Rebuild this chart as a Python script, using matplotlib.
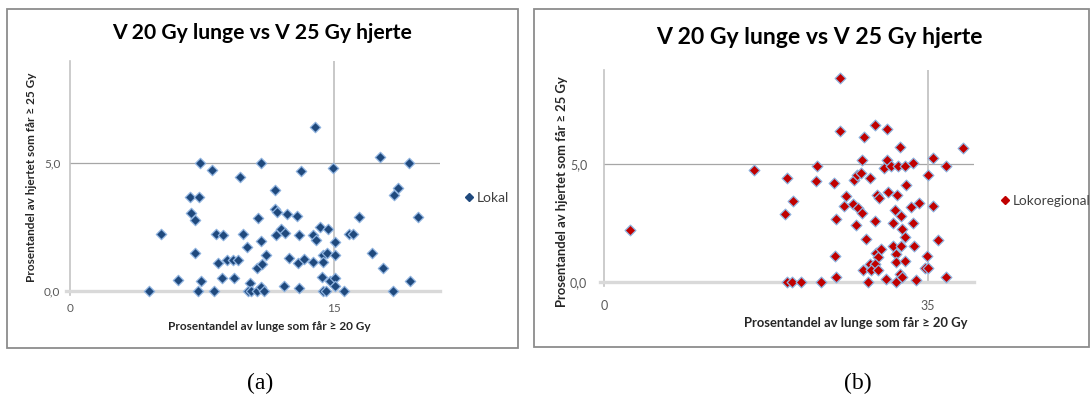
import matplotlib
matplotlib.use("Agg")
import matplotlib.pyplot as plt
from matplotlib.lines import Line2D
from matplotlib.patches import Rectangle

plt.rcParams['font.family'] = ['Lato', 'DejaVu Sans']

W, H = 1091, 399

# Lokal (a)
lokal_x = [4.5, 5.15, 6.15, 6.8, 7.35, 7.38, 6.84, 7.1, 7.08, 7.42, 7.28, 8.08, 8.18,
           8.31, 8.7, 8.4, 8.62, 8.9, 9.24, 9.52, 9.28, 9.65, 9.82, 10.03, 10.22, 10.08,
           10.28, 10.6, 10.83, 11.02, 10.82, 10.65, 10.84, 10.61, 10.92, 11.15, 11.66,
           11.63, 11.74, 11.98, 11.71, 12.2, 12.33, 12.42, 12.15, 12.86, 12.98, 12.95,
           13.27, 13.0, 13.1, 13.9, 13.8, 13.97, 14.2, 14.63, 14.36, 14.56, 13.81, 14.38,
           14.3, 14.35, 14.54, 14.77, 14.92, 15.02, 15.02, 15.02, 15.02, 15.53, 15.82,
           16.08, 16.42, 17.14, 17.76, 17.57, 18.33, 18.38, 18.64, 19.23, 19.32, 19.75]
lokal_y = [0, 2.23, 0.44, 3.69, 3.69, 5.0, 3.05, 2.78, 1.49, 0.39, 0, 4.75, 0,
           2.25, 2.19, 1.09, 0.5, 1.2, 1.2, 1.2, 0.5, 4.45, 2.24, 1.71, 0.3, 0,
           0, 0, 0.15, 0, 5.0, 2.85, 1.95, 0.91, 1.04, 1.42, 3.96,
           3.19, 3.1, 2.41, 2.19, 2.26, 3.0, 1.31, 0.19, 2.93, 2.21, 1.1,
           1.26, 0.1, 4.71, 6.43, 2.19, 1.99, 2.52, 2.44, 1.42, 1.48, 1.14, 1.12,
           0.56, 0, 0, 0.38, 4.82, 1.92, 1.4, 0.52, 0.21, 0, 2.23,
           2.25, 2.91, 1.47, 0.89, 5.25, 0, 3.76, 4.05, 5.02, 0.39, 2.9]

# Lokoregional (b)
lokoreg_x = [2.78, 16.23, 19.78, 20.39, 19.52, 19.78, 20.33, 21.26, 23.46, 23.03, 22.96,
             24.84, 25.09, 24.98, 25.09, 25.49, 25.56, 26.14, 25.92, 27.22, 26.93, 27.08,
             27.37, 27.77, 27.88, 28.09, 28.78, 27.44, 27.91, 28.34, 27.98, 28.49, 29.25,
             29.25, 29.36, 29.65, 28.74, 29.28, 28.88, 29.9, 29.61, 29.46, 29.75, 30.29,
             30.62, 30.98, 30.62, 30.69, 30.44, 31.27, 31.2, 31.56, 31.56, 31.56, 31.49,
             31.71, 31.81, 31.96, 32.07, 32.07, 32.0, 32.21, 32.18, 32.5, 32.5, 32.57,
             32.65, 33.22, 33.44, 33.44, 33.51, 33.73, 34.02, 35.03, 34.96, 34.67, 35.03,
             35.57, 35.61, 36.11, 36.98, 36.98, 38.83]
lokoreg_y = [2.2, 4.74, 4.42, 3.45, 2.87, 0, 0, 0, 0, 4.93, 4.28,
             4.2, 2.68, 1.09, 0.2, 8.66, 6.42, 3.66, 3.22, 2.41, 3.31, 4.33,
             4.55, 4.64, 5.16, 6.15, 4.4, 3.13, 2.95, 1.82, 0.5, 0, 6.65,
             2.6, 1.24, 1.07, 0.75, 0.75, 0.5, 1.39, 0.5, 3.69, 3.58, 4.83,
             5.18, 4.93, 6.51, 3.84, 0.11, 2.49, 1.53, 1.19, 0.85, 0, 3.07,
             3.69, 4.93, 5.74, 2.81, 1.53, 0.36, 0.2, 2.23, 1.92, 4.93, 0.89,
             4.11, 3.2, 5.04, 2.5, 1.53, 0.07, 3.34, 4.53, 1.09, 0.61, 0.61,
             5.28, 3.22, 1.8, 4.93, 0.2, 5.7]

title = "V 20 Gy lunge vs V 25 Gy hjerte"
xlabel = "Prosentandel av lunge som får ≥ 20 Gy"
ylabel = "Prosentandel av hjertet som får ≥ 25 Gy"
tick_color = "#595959"


def px(x, y):
    """pikselkoordinat (fra øvre venstre hjørne) -> figurbrøk"""
    return x / W, 1 - y / H


def panel(fig, box, ax_px, xmax, xgrid, xs, ys, face, label, p):
    # ramme rundt diagrammet
    x0, y0, x1, y1 = box
    fig.patches.append(Rectangle(px(x0, y1), (x1 - x0) / W, (y1 - y0) / H,
                                 transform=fig.transFigure, fill=False,
                                 edgecolor="#8c8c8c", lw=1.3))
    l, t, r, b = ax_px
    ax = fig.add_axes([l / W, 1 - b / H, (r - l) / W, (b - t) / H])
    ax.set_xlim(0, xmax)
    ax.set_ylim(0, 9)
    for s in ax.spines.values():
        s.set_visible(False)

    ax.axhline(5, color="#a6a6a6", lw=0.9, zorder=1)
    ax.axvline(xgrid, color="#bfbfbf", lw=1.2, zorder=1)
    ax.plot([0, 0], [-0.15, 9], color="#c4c4c4", lw=1.2, clip_on=False, zorder=1)
    ax.plot([-0.012 * xmax, xmax], [0, 0], color="#d9d9d9", lw=2.4,
            clip_on=False, zorder=1)

    ax.scatter(xs, ys, marker="D", s=p["ms"], c=face, edgecolors="#8fb3df",
               linewidths=0.9, zorder=3, clip_on=False)

    ax.set_xticks([0, xgrid])
    ax.set_xticklabels(["0", str(xgrid)])
    ax.set_yticks([0, 5])
    ax.set_yticklabels(["0,0", "5,0"])
    ax.tick_params(length=0, colors=tick_color, labelsize=p["tick"])
    ax.tick_params(axis="x", pad=p["xpad"])
    ax.tick_params(axis="y", pad=p["ypad"])

    fig.text(*px(*p["title_pos"]), title, ha="center", va="center",
             fontsize=p["title"], fontweight="bold", color="black")
    fig.text(*px(*p["xl_pos"]), xlabel, ha="center", va="center",
             fontsize=p["lab"], fontweight="bold", color="#262626")
    fig.text(*px(*p["yl_pos"]), ylabel, ha="center", va="center", rotation=90,
             fontsize=p["lab"], fontweight="bold", color="#262626")

    h = Line2D([], [], marker="D", ls="none", markersize=4.4,
               markerfacecolor=face, markeredgecolor=face)
    fig.legend([h], [label], loc="center left",
               bbox_to_anchor=px(*p["leg_pos"]), frameon=False,
               handlelength=0.6, handletextpad=0.25, borderpad=0,
               borderaxespad=0, prop={"size": p["leg"]}, labelcolor="#404040")
    return ax


fig = plt.figure(figsize=(W / 100, H / 100), dpi=100)

panel(fig, (7, 9, 518, 348), (70, 61, 440, 291), 21, 15, lokal_x, lokal_y,
      "#1f497d", "Lokal",
      dict(ms=28, tick=8.5, xpad=9, ypad=7, title=15.2, lab=8.5, leg=10,
           title_pos=(262, 33), xl_pos=(269, 326), yl_pos=(32, 177),
           leg_pos=(465, 198)))

panel(fig, (534, 9, 1089, 347), (604, 70, 974, 282), 40, 35, lokoreg_x, lokoreg_y,
      "#c00000", "Lokoregional",
      dict(ms=30, tick=9, xpad=13, ypad=12, title=16.6, lab=9.4, leg=9.8,
           title_pos=(819, 37), xl_pos=(856, 323), yl_pos=(562, 192),
           leg_pos=(1001, 201)))

fig.text(*px(260, 383), "(a)", ha="center", va="center",
         fontsize=17, family="Liberation Serif")
fig.text(*px(858, 383), "(b)", ha="center", va="center",
         fontsize=17, family="Liberation Serif")

fig.savefig("out.png", dpi=100)
